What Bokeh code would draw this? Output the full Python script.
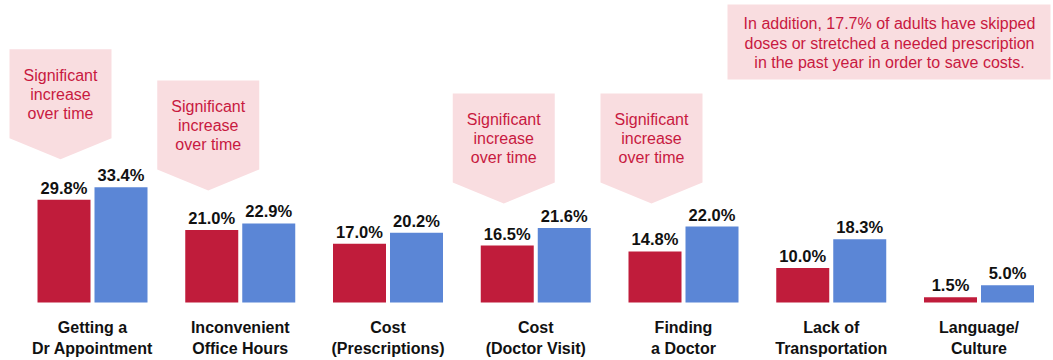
from bokeh.plotting import figure
from bokeh.models import Range1d, ColumnDataSource
from bokeh.core.properties import value
from bokeh.embed import file_html
from bokeh.resources import INLINE

# ---- data ----
categories = ["Getting a\nDr Appointment", "Inconvenient\nOffice Hours", "Cost\n(Prescriptions)",
              "Cost\n(Doctor Visit)", "Finding\na Doctor", "Lack of\nTransportation", "Language/\nCulture"]
earlier = [29.8, 21.0, 17.0, 16.5, 14.8, 10.0, 1.5]
latest = [33.4, 22.9, 20.2, 21.6, 22.0, 18.3, 5.0]
callout_groups = [0, 1, 3, 4]
callout_tip = [41.5, 32.5, 28.7, 28.7]
callout_lines = ["Significant", "increase", "over time"]
note_lines = ["In addition, 17.7% of adults have skipped",
              "doses or stretched a needed prescription",
              "in the past year in order to save costs."]

# ---- layout ----
W, H = 1053, 360
SX = 147.75   # px per group
SY = 3.45     # px per percent
x_start = -92 / SX
y_start = -58 / SY
x_end = x_start + W / SX
y_end = y_start + H / SY

def page_x(px):
    return x_start + px / SX

def page_y(py):
    return y_start + (H - py) / SY

RED = "#c01c3b"
BLUE = "#5b86d6"
PINK = "#f9dde0"
CRIMSON = "#c8193f"
BOLD = value("Liberation Sans")
ARIAL = value("Liberation Sans")

p = figure(width=W, height=H, output_backend="svg", toolbar_location=None,
           x_range=Range1d(x_start, x_end), y_range=Range1d(y_start, y_end),
           min_border=0, outline_line_color=None)
p.xaxis.visible = False
p.yaxis.visible = False
p.grid.visible = False
p.background_fill_color = "white"

xs = list(range(len(categories)))
off = 28.5 / SX
bw = 53 / SX
src = ColumnDataSource(dict(
    xr=[x - off for x in xs], xb=[x + off for x in xs],
    red=earlier, blue=latest,
    rl=[f"{v:.1f}%" for v in earlier], bl=[f"{v:.1f}%" for v in latest],
))
p.vbar(x="xr", top="red", bottom=0, width=bw, source=src, fill_color=RED, line_color=None)
p.vbar(x="xb", top="blue", bottom=0, width=bw, source=src, fill_color=BLUE, line_color=None)

for xk, yk, tk in (("xr", "red", "rl"), ("xb", "blue", "bl")):
    p.text(x=xk, y=yk, text=tk, source=src, text_align="center", text_baseline="alphabetic",
           y_offset=-12, text_font=BOLD, text_font_style="bold", text_font_size="16.5px",
           text_color="#111111")

# category labels
l1 = [c.split("\n")[0] for c in categories]
l2 = [c.split("\n")[1] for c in categories]
for lines, dy in ((l1, 25), (l2, 46)):
    p.text(x=xs, y=[0] * len(xs), text=lines, text_align="center", text_baseline="middle",
           y_offset=dy, text_font=BOLD, text_font_style="bold", text_font_size="16px",
           text_color="#111111")

# callouts
hw = 51 / SX
pxs, pys = [], []
tx, ty, tt, toff = [], [], [], []
for g, t in zip(callout_groups, callout_tip):
    cx = g - 32 / SX
    rb = t + 21 / SY
    top = t + 110 / SY
    pxs.append([cx - hw, cx + hw, cx + hw, cx, cx - hw])
    pys.append([top, top, rb, t, rb])
    for line, dy in zip(callout_lines, (-84, -65, -46)):
        tx.append(cx)
        ty.append(t)
        tt.append(line)
        toff.append(dy)
p.patches(xs=pxs, ys=pys, fill_color=PINK, line_color=None)
p.text(x=tx, y=ty, text=tt, y_offset=toff, text_align="center", text_baseline="middle",
       text_font=ARIAL, text_font_size="16px", text_color=CRIMSON)

# note box
p.quad(left=[page_x(727)], right=[page_x(1050)], top=[page_y(4)], bottom=[page_y(79)],
       fill_color=PINK, line_color=None)
p.text(x=[page_x(889)] * 3, y=[page_y(23), page_y(43), page_y(62)], text=note_lines,
       text_align="center", text_baseline="middle", text_font=ARIAL, text_font_size="16px",
       text_color=CRIMSON)

open("out.html", "w").write(file_html(p, INLINE))
